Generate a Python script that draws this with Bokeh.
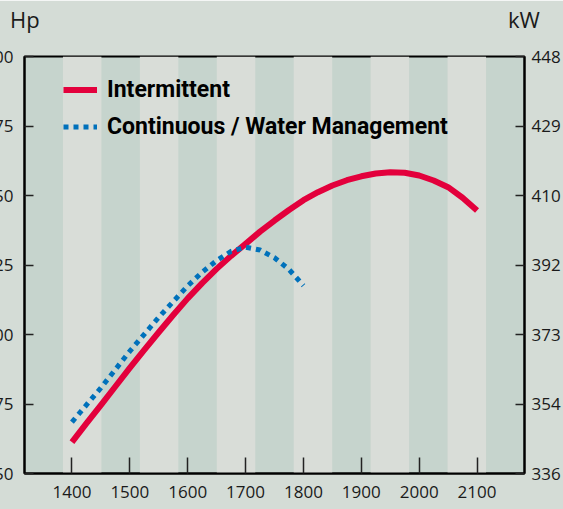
from bokeh.plotting import figure
from bokeh.models import Range1d, LinearAxis, FixedTicker, Legend, LegendItem, Div
from bokeh.embed import file_html
from bokeh.resources import INLINE

# ---- data ----
rpm_ticks = [1400, 1500, 1600, 1700, 1800, 1900, 2000, 2100]
hp_ticks = [450, 475, 500, 525, 550, 575, 600]
kw_labels = ["336", "354", "373", "392", "410", "429", "448"]

intermittent_rpm = [1400, 1425, 1450, 1475, 1500, 1525, 1550, 1575, 1600, 1625,
                    1650, 1675, 1700, 1725, 1750, 1775, 1800, 1825, 1850, 1875,
                    1900, 1925, 1950, 1975, 2000, 2025, 2050, 2075, 2100]
intermittent_hp = [461.3, 468.0, 474.6, 481.3, 488.0, 494.5, 500.8, 507.0, 513.0, 518.5,
                   523.6, 528.3, 532.6, 537.0, 541.0, 544.8, 548.3, 551.2, 553.6, 555.5,
                   556.9, 557.9, 558.4, 558.2, 557.2, 555.4, 553.0, 549.2, 544.6]

continuous_rpm = [1400, 1450, 1500, 1550, 1600, 1625, 1650, 1675, 1700,
                  1725, 1750, 1775, 1800]
continuous_hp = [468.5, 480.8, 494.0, 506.2, 517.5, 522.4, 526.6, 529.9, 531.4,
                 530.4, 527.6, 523.4, 517.6]

series_labels = ["Intermittent", "Continuous / Water Management"]
unit_left = "Hp"
unit_right = "kW"

# ---- style ----
OUTER = "#d4dcd6"
LIGHT = "#d9ddd8"
DARK = "#c6d4cd"
RED = "#e3003c"
BLUE = "#0071bb"
TICK_FONT = "Open Sans"

x0, x1 = 1318, 2182
y0, y1 = 450, 600

p = figure(width=603, height=509, output_backend="svg", toolbar_location=None,
           x_range=Range1d(x0, x1), y_range=Range1d(y0, y1),
           x_axis_location=None, y_axis_location=None,
           min_border_left=64, min_border_right=39, min_border_top=56,
           min_border_bottom=36)
p.styles = {"position": "absolute", "left": "-40px", "top": "0px"}
p.background_fill_color = DARK
p.border_fill_color = OUTER
p.outline_line_color = "black"
p.outline_line_width = 2
p.grid.visible = False

# vertical stripes (13 equal bands, light ones on odd indices)
n_bands = 13
bw = (x1 - x0) / n_bands
lefts = [x0 + i * bw for i in range(1, n_bands, 2)]
rights = [l + bw for l in lefts]
p.quad(left=lefts, right=rights, bottom=y0, top=y1, fill_color=LIGHT, line_color=None)

r1 = p.line(intermittent_rpm, intermittent_hp, line_color=RED, line_width=6,
            line_join="round")
r2 = p.line(continuous_rpm, continuous_hp, line_color=BLUE, line_width=5,
            line_dash="5 5")

legend = Legend(items=[LegendItem(label=series_labels[0], renderers=[r1]),
                       LegendItem(label=series_labels[1], renderers=[r2])],
                location=(39, 331), background_fill_alpha=0, border_line_alpha=0,
                label_text_font="Roboto", label_text_font_style="bold",
                label_text_font_size="23px", label_text_color="black",
                glyph_width=34, glyph_height=31, label_height=31, spacing=6,
                padding=0, margin=0, label_standoff=10)
p.add_layout(legend)


def style_axis(ax, tick_in, standoff):
    ax.major_tick_in = tick_in
    ax.major_tick_out = 0
    ax.minor_tick_in = 0
    ax.minor_tick_out = 0
    ax.major_tick_line_width = 1.5
    ax.major_tick_line_color = "#222222"
    ax.axis_line_width = 2
    ax.axis_line_color = "black"
    ax.major_label_standoff = standoff
    ax.major_label_text_font = TICK_FONT
    ax.major_label_text_font_size = "17px"
    ax.major_label_text_color = "#1a1a1a"


left = LinearAxis(ticker=FixedTicker(ticks=hp_ticks))
style_axis(left, 9, 11)
p.add_layout(left, "left")

right = LinearAxis(ticker=FixedTicker(ticks=hp_ticks),
                   major_label_overrides={h: k for h, k in zip(hp_ticks, kw_labels)})
style_axis(right, 9, 7)
p.add_layout(right, "right")

bottom = LinearAxis(ticker=FixedTicker(ticks=rpm_ticks))
style_axis(bottom, 16, 12)
p.add_layout(bottom, "below")

unit_style = {"position": "absolute", "top": "4px", "font-family": "Open Sans",
              "font-size": "22px", "line-height": "30px", "color": "#1a1a1a",
              "margin": "0", "padding": "0"}
hp_div = Div(text=unit_left, width=40, height=30,
             styles=dict(unit_style, left="10px"))
kw_div = Div(text=unit_right, width=40, height=30,
             styles=dict(unit_style, left="508px"))

open("out.html", "w").write(file_html([p, hp_div, kw_div], INLINE))
